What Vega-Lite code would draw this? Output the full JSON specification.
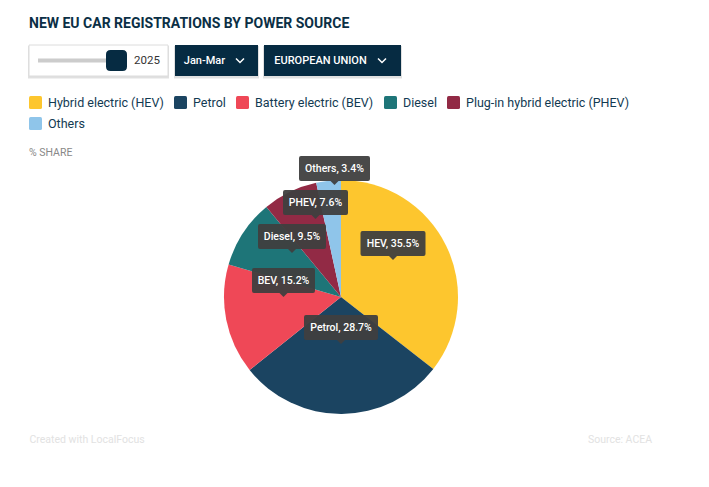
{
  "$schema": "https://vega.github.io/schema/vega-lite/v6.json",
  "width": 624,
  "height": 286,
  "autosize": {"type": "none"},
  "padding": {"left": 29, "top": 154, "right": 56, "bottom": 47},
  "background": "white",
  "title": {
    "text": "NEW EU CAR REGISTRATIONS BY POWER SOURCE",
    "subtitle": "% SHARE",
    "anchor": "start",
    "frame": "group",
    "offset": -115,
    "font": "Roboto",
    "fontSize": 14,
    "fontWeight": "bold",
    "color": "#0b2f45",
    "subtitleFont": "Roboto",
    "subtitleFontSize": 10.5,
    "subtitleColor": "#888888",
    "subtitlePadding": 117
  },
  "datasets": {
    "shares": [
      {"source": "Hybrid electric (HEV)", "short": "HEV", "share": 35.5, "label": "HEV, 35.5%"},
      {"source": "Petrol", "short": "Petrol", "share": 28.7, "label": "Petrol, 28.7%"},
      {"source": "Battery electric (BEV)", "short": "BEV", "share": 15.2, "label": "BEV, 15.2%"},
      {"source": "Diesel", "short": "Diesel", "share": 9.5, "label": "Diesel, 9.5%"},
      {"source": "Plug-in hybrid electric (PHEV)", "short": "PHEV", "share": 7.6, "label": "PHEV, 7.6%"},
      {"source": "Others", "short": "Others", "share": 3.4, "label": "Others, 3.4%"}
    ],
    "dropdowns": [
      {"control": "Jan-Mar"},
      {"control": "EUROPEAN UNION"}
    ],
    "slider": [{"year": "2025"}],
    "notes": [
      {"note": "Created with LocalFocus", "row": "footer"},
      {"note": "Source:  ACEA", "row": "footer"}
    ]
  },
  "layer": [
    {
      "data": {"name": "shares"},
      "mark": {"type": "arc", "outerRadius": 117},
      "encoding": {
        "theta": {"field": "share", "type": "quantitative", "stack": true},
        "order": {"field": "share", "type": "quantitative", "sort": "descending"},
        "color": {
          "field": "source",
          "type": "nominal",
          "sort": null,
          "scale": {
            "domain": ["Hybrid electric (HEV)", "Petrol", "Battery electric (BEV)", "Diesel", "Plug-in hybrid electric (PHEV)", "Others"],
            "range": ["#fdc62e", "#1b4461", "#ef4857", "#1e7578", "#922a45", "#8fc5ea"]
          },
          "legend": {
            "orient": "none",
            "direction": "horizontal",
            "legendX": 0,
            "legendY": -58,
            "title": null,
            "columns": 5,
            "gridAlign": "none",
            "columnPadding": 10,
            "rowPadding": 8,
            "symbolType": "M-0.75,-1H0.75Q1,-1 1,-0.75V0.75Q1,1 0.75,1H-0.75Q-1,1 -1,0.75V-0.75Q-1,-1 -0.75,-1Z",
            "symbolSize": 169,
            "symbolStrokeWidth": 0,
            "symbolOpacity": 1,
            "labelFont": "Roboto",
            "labelFontSize": 12.5,
            "labelColor": "#123a52",
            "labelOffset": 6,
            "labelLimit": 300
          }
        }
      }
    },
    {
      "data": {"name": "shares"},
      "encoding": {
        "x": {
          "field": "share",
          "type": "quantitative",
          "axis": null,
          "scale": {"domain": [3.4, 7.6, 9.5, 15.2, 28.7, 35.5], "range": [305.5, 286.5, 263, 254.5, 312, 364], "nice": false, "zero": false}
        },
        "y": {
          "field": "share",
          "type": "quantitative",
          "axis": null,
          "scale": {"domain": [3.4, 7.6, 9.5, 15.2, 28.7, 35.5], "range": [31, 65, 99, 143, 190, 106], "nice": false, "zero": false}
        }
      },
      "layer": [
        {
          "mark": {"type": "point", "filled": true, "size": 4, "opacity": 0.95, "strokeWidth": 0},
          "encoding": {
            "shape": {
              "field": "short",
              "type": "nominal",
              "legend": null,
              "scale": {
                "domain": ["HEV", "Petrol", "BEV", "Diesel", "PHEV", "Others"],
                "range": [
                  "M-30.5,-29H30.5Q32.5,-29 32.5,-27V-6Q32.5,-4 30.5,-4H4L0,0L-4,-4H-30.5Q-32.5,-4 -32.5,-6V-27Q-32.5,-29 -30.5,-29Z",
                  "M-35,-29H35Q37,-29 37,-27V-6Q37,-4 35,-4H4L0,0L-4,-4H-35Q-37,-4 -37,-6V-27Q-37,-29 -35,-29Z",
                  "M-29.5,-29H29.5Q31.5,-29 31.5,-27V-6Q31.5,-4 29.5,-4H4L0,0L-4,-4H-29.5Q-31.5,-4 -31.5,-6V-27Q-31.5,-29 -29.5,-29Z",
                  "M-32,-29H32Q34,-29 34,-27V-6Q34,-4 32,-4H4L0,0L-4,-4H-32Q-34,-4 -34,-6V-27Q-34,-29 -32,-29Z",
                  "M-30.5,-29H30.5Q32.5,-29 32.5,-27V-6Q32.5,-4 30.5,-4H4L0,0L-4,-4H-30.5Q-32.5,-4 -32.5,-6V-27Q-32.5,-29 -30.5,-29Z",
                  "M-33.5,-29H33.5Q35.5,-29 35.5,-27V-6Q35.5,-4 33.5,-4H4L0,0L-4,-4H-33.5Q-35.5,-4 -35.5,-6V-27Q-35.5,-29 -33.5,-29Z"
                ]
              }
            },
            "color": {"value": "#3f3f3f"}
          }
        },
        {
          "mark": {"type": "text", "dy": -16.5, "font": "Roboto", "fontSize": 10.5, "fontWeight": 500, "fill": "white"},
          "encoding": {"text": {"field": "label", "type": "nominal"}}
        }
      ]
    },
    {
      "data": {"name": "dropdowns"},
      "encoding": {
        "x": {
          "field": "control",
          "type": "nominal",
          "sort": null,
          "axis": null,
          "scale": {"type": "point", "domain": ["Jan-Mar", "EUROPEAN UNION"], "range": [187.5, 303.5], "padding": 0}
        },
        "y": {"field": "control", "type": "nominal", "axis": null, "scale": {"type": "point", "range": [-93.5, -93.5], "padding": 0}}
      },
      "resolve": {"scale": {"shape": "independent"}},
      "layer": [
        {
          "mark": {"type": "point", "filled": true, "size": 4, "strokeWidth": 0, "opacity": 0.12},
          "encoding": {
            "shape": {
              "field": "control",
              "type": "nominal",
              "legend": null,
              "scale": {"domain": ["Jan-Mar", "EUROPEAN UNION"], "range": ["M-42.5,-14.5H42.5V18H-42.5Z", "M-69.5,-14.5H69.5V18H-69.5Z"]}
            },
            "color": {"value": "#000000"}
          }
        },
        {
          "mark": {"type": "point", "filled": true, "size": 4, "strokeWidth": 0, "opacity": 1},
          "encoding": {
            "shape": {
              "field": "control",
              "type": "nominal",
              "legend": null,
              "scale": {"domain": ["Jan-Mar", "EUROPEAN UNION"], "range": ["M-41.5,-15.5H41.5V15.5H-41.5Z", "M-68.5,-15.5H68.5V15.5H-68.5Z"]}
            },
            "color": {"value": "#062b42"}
          }
        },
        {
          "mark": {"type": "point", "filled": false, "size": 4, "strokeWidth": 1.5, "opacity": 1, "stroke": "white"},
          "encoding": {
            "shape": {
              "field": "control",
              "type": "nominal",
              "legend": null,
              "scale": {"domain": ["Jan-Mar", "EUROPEAN UNION"], "range": ["M19.5,-2L23.5,2L27.5,-2", "M45.5,-2L49.5,2L53.5,-2"]}
            }
          }
        },
        {
          "mark": {"type": "text", "dx": -12, "font": "Roboto", "fontSize": 11, "fontWeight": 500, "fill": "white"},
          "encoding": {"text": {"field": "control", "type": "nominal"}}
        }
      ]
    },
    {
      "data": {"name": "slider"},
      "encoding": {
        "x": {"field": "year", "type": "nominal", "axis": null, "scale": {"type": "point", "range": [69.5, 69.5], "padding": 0}},
        "y": {"field": "year", "type": "nominal", "axis": null, "scale": {"type": "point", "range": [-93.5, -93.5], "padding": 0}}
      },
      "layer": [
        {"mark": {"type": "point", "filled": true, "size": 4, "fill": "#000000", "strokeWidth": 0, "opacity": 0.12, "shape": "M-70.5,-14.5H70.5V18H-70.5Z"}},
        {"mark": {"type": "point", "filled": true, "size": 4, "fill": "white", "stroke": "#dcdcdc", "strokeWidth": 1, "opacity": 1, "shape": "M-69.5,-15.5H69.5V15.5H-69.5Z"}},
        {"mark": {"type": "point", "filled": true, "size": 4, "fill": "#cccccc", "strokeWidth": 0, "opacity": 1, "shape": "M-60.5,-2H18V2H-60.5Z"}},
        {"mark": {"type": "point", "filled": true, "size": 4, "fill": "#062b42", "strokeWidth": 0, "opacity": 1, "shape": "M12,-10.5H24Q28.5,-10.5 28.5,-6V6Q28.5,10.5 24,10.5H12Q7.5,10.5 7.5,6V-6Q7.5,-10.5 12,-10.5Z"}},
        {
          "mark": {"type": "text", "dx": 48.5, "font": "Roboto", "fontSize": 11.5, "fill": "#333333"},
          "encoding": {"text": {"field": "year", "type": "nominal"}}
        }
      ]
    },
    {
      "data": {"name": "notes"},
      "mark": {"type": "text", "font": "Roboto", "fontSize": 10.5, "fill": "#e2e2e2"},
      "encoding": {
        "x": {"field": "note", "type": "nominal", "sort": null, "axis": null, "scale": {"type": "point", "domain": ["Created with LocalFocus", "Source:  ACEA"], "range": [58, 591], "padding": 0}},
        "y": {"field": "row", "type": "nominal", "axis": null, "scale": {"type": "point", "range": [286, 286], "padding": 0}},
        "text": {"field": "note", "type": "nominal"}
      }
    }
  ],
  "resolve": {"scale": {"x": "independent", "y": "independent", "shape": "independent"}},
  "config": {"view": {"stroke": null}}
}
